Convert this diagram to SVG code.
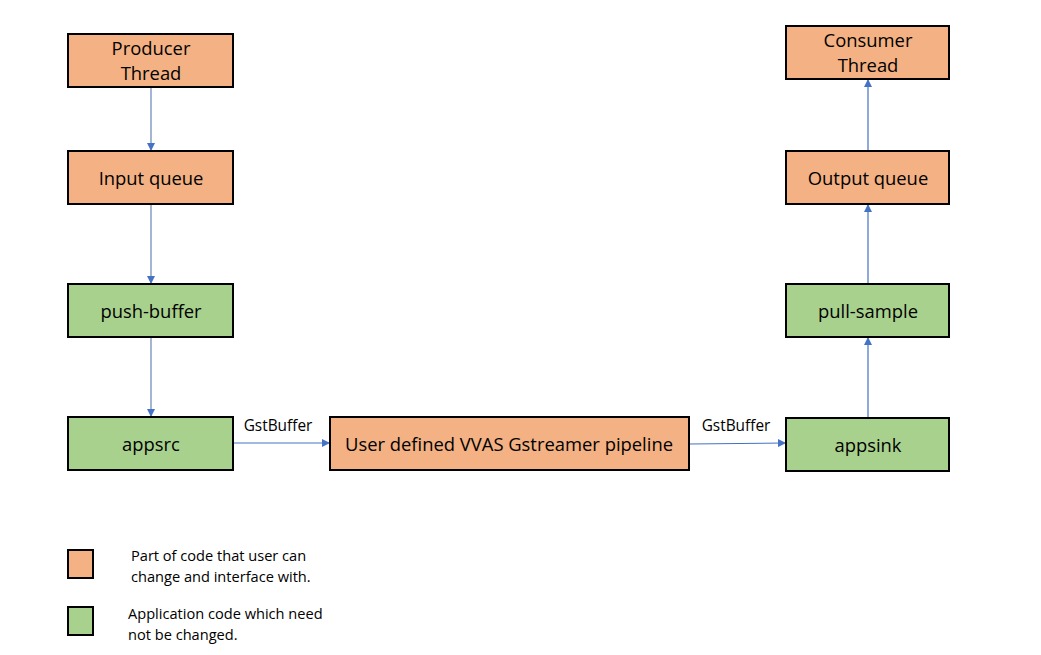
<svg xmlns="http://www.w3.org/2000/svg" width="1041" height="655" viewBox="0 0 1041 655">
<style>
.o{fill:#F4B183;stroke:#000;stroke-width:2}
.g{fill:#A9D18E;stroke:#000;stroke-width:2}
.t{font-family:"Open Sans","Liberation Sans",sans-serif;font-size:18.4px;fill:#000;text-anchor:middle}
.s{font-family:"Open Sans","Liberation Sans",sans-serif;font-size:14.6px;fill:#000}
.b{font-family:"Open Sans","Liberation Sans",sans-serif;font-size:15.4px;fill:#000;text-anchor:middle}
.c{stroke:#4472C4;stroke-width:1.2;fill:none;marker-end:url(#a)}
.cl{stroke:#5A77B0;stroke-width:1.1;fill:none;marker-end:url(#a)}
</style>
<defs>
<marker id="a" viewBox="0 0 10 10" refX="10" refY="5" markerWidth="8" markerHeight="8" markerUnits="userSpaceOnUse" orient="auto">
<path d="M0,0 L10,5 L0,10 z" fill="#4472C4"/>
</marker>
</defs>
<rect width="1041" height="655" fill="#fff"/>
<g id="connectors">
<line class="cl" x1="151" y1="87" x2="151" y2="151"/>
<line class="cl" x1="151" y1="204" x2="151" y2="284"/>
<line class="cl" x1="151" y1="337" x2="151" y2="417"/>
<line class="c" x1="233" y1="443" x2="330" y2="443"/>
<line class="c" x1="689" y1="444" x2="786" y2="443"/>
<line class="c" x1="868" y1="418" x2="868" y2="337"/>
<line class="c" x1="868" y1="284" x2="868" y2="204"/>
<line class="c" x1="868" y1="151" x2="868" y2="79"/>
<text class="b" x="278" y="431">GstBuffer</text>
<text class="b" x="736" y="431">GstBuffer</text>
</g>
<g id="producer"><rect class="o" x="68" y="34" width="165" height="53"/><text class="t" x="151" y="55">Producer</text><text class="t" x="151" y="80">Thread</text></g>
<g id="inputqueue"><rect class="o" x="68" y="151" width="165" height="53"/><text class="t" x="151" y="185">Input queue</text></g>
<g id="pushbuffer"><rect class="g" x="68" y="284" width="165" height="53"/><text class="t" x="151" y="318">push-buffer</text></g>
<g id="appsrc"><rect class="g" x="68" y="417" width="165" height="53"/><text class="t" x="151" y="451">appsrc</text></g>
<g id="pipeline"><rect class="o" x="330" y="417" width="359" height="53"/><text class="t" x="509" y="451">User defined VVAS Gstreamer pipeline</text></g>
<g id="appsink"><rect class="g" x="786" y="418" width="163" height="53"/><text class="t" x="868" y="452">appsink</text></g>
<g id="pullsample"><rect class="g" x="786" y="284" width="163" height="53"/><text class="t" x="868" y="318">pull-sample</text></g>
<g id="outputqueue"><rect class="o" x="786" y="151" width="163" height="53"/><text class="t" x="868" y="185">Output queue</text></g>
<g id="consumer"><rect class="o" x="786" y="26" width="163" height="53"/><text class="t" x="868" y="47">Consumer</text><text class="t" x="868" y="72">Thread</text></g>
<g id="legend">
<rect class="o" x="68" y="550" width="25" height="28"/>
<text class="s" x="131" y="561">Part of code that user can</text>
<text class="s" x="131" y="582">change and interface with.</text>
<rect class="g" x="68" y="607" width="25" height="28"/>
<text class="s" x="128" y="619">Application code which need</text>
<text class="s" x="128" y="640">not be changed.</text>
</g>
</svg>
